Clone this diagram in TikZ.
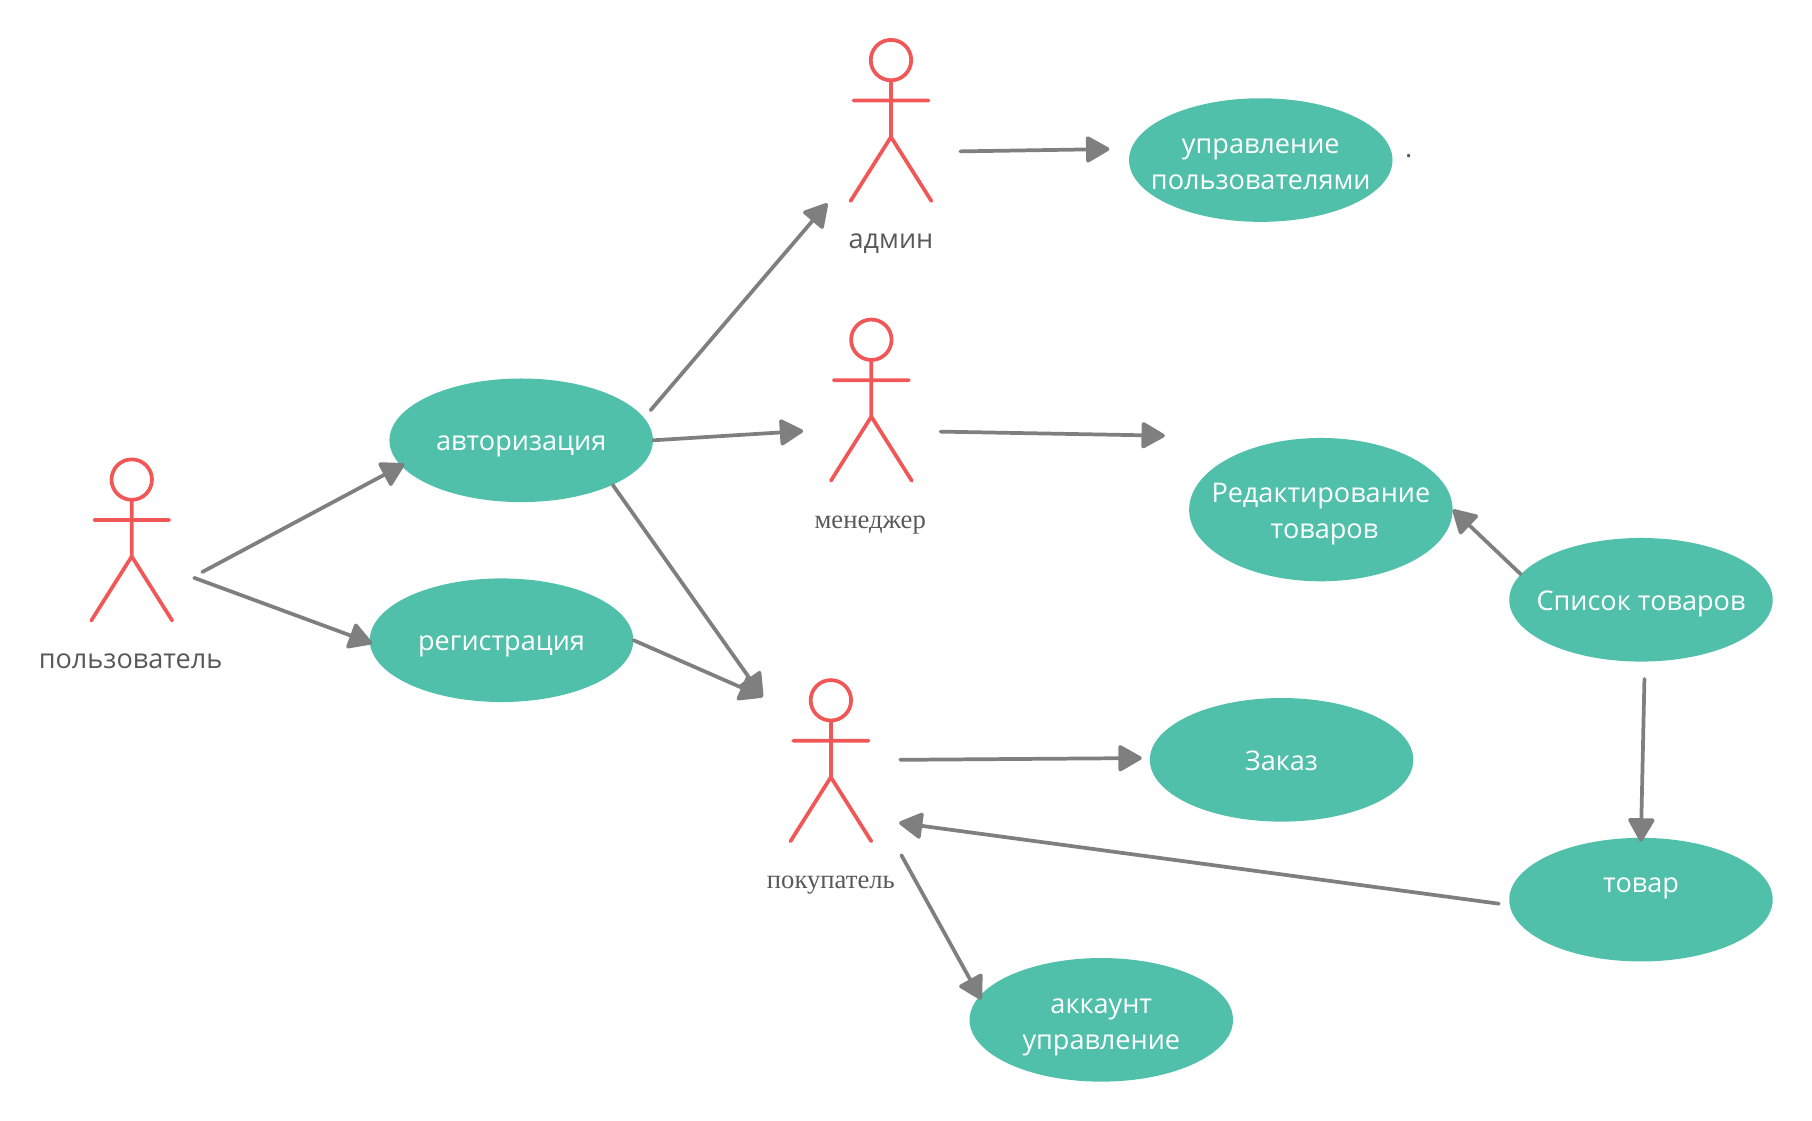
\documentclass[tikz,border=0pt]{standalone}
\usepackage{fontspec}
\setmainfont{Open Sans}
\newfontfamily\serifcap{Liberation Serif}
\usetikzlibrary{arrows.meta, shapes.geometric}
\definecolor{casegreen}{HTML}{51C0AA}
\definecolor{actorred}{HTML}{F25757}
\definecolor{arrowgray}{HTML}{7F7F7F}
\definecolor{capgray}{HTML}{595959}
\tikzset{
    usecase/.style={ellipse, fill=casegreen, minimum width=197.6pt, minimum height=92.7pt, inner sep=-30pt,
        text=white, align=center, font=\fontsize{20.3}{27}\selectfont,
        execute at begin node={\rule{0pt}{21pt}}, execute at end node={\rule[-5.5pt]{0pt}{0pt}}},
    twolines/.style={execute at begin node={\rule{0pt}{49.5pt}}},
    actorcap/.style={text=capgray, inner sep=0pt, font=\fontsize{20.3}{24}\selectfont},
    actorserif/.style={text=capgray, inner sep=0pt, font=\fontsize{20}{24}\selectfont\serifcap},
    link/.style={draw=arrowgray, line width=2.8pt, line cap=round, -{Triangle[length=19pt,width=21pt,round]}},
    actorfig/.pic={
        \draw[actorred, line width=2.8pt, line cap=round, line join=round]
            (0,0) circle [radius=17.5]
            (0,17.5) -- (0,66.5)
            (-32.5,35) -- (32.5,35)
            (-35,122) -- (0,66.5) -- (35,122);
    }
}
\begin{document}
\begin{tikzpicture}[x=0.8667pt, y=-0.8667pt]
    \useasboundingbox (0,0) rectangle (1568,970);

    \pic at (114,415) {actorfig};
    \pic at (771,52) {actorfig};
    \pic at (754,294) {actorfig};
    \pic at (719,606) {actorfig};

    \node[actorcap] (userlabel) at (113,572) {пользователь};
    \node[actorcap] (adminlabel) at (771,211) {админ};
    \node[actorserif] (managerlabel) at (753,454) {менеджер};
    \node[actorserif] (buyerlabel) at (719,766) {покупатель};

    \node[usecase] (auth) at (451,381) {авторизация};
    \node[usecase] (reg) at (434,554) {регистрация};
    \node[usecase, twolines] (usermgmt) at (1091,138.5) {управление~\\пользователями};
    \node[usecase, twolines, minimum height=107.5pt] (edit) at (1143,441) {Редактирование\\~товаров};
    \node[usecase] (list) at (1420,519) {Список товаров};
    \node[usecase] (order) at (1109,657.5) {Заказ};
    \node[usecase, twolines] (item) at (1420,778.5) {товар\\~};
    \node[usecase, twolines] (account) at (953,882.5) {аккаунт\\управление};
    \node[actorcap] (dot) at (1219,135) {.};

    \coordinate (userout1) at (175,495);
    \coordinate (userout2) at (168,500);
    \coordinate (authout) at (563,355);
    \coordinate (adminin) at (716,176);
    \coordinate (adminout) at (831,131);
    \coordinate (mgmtin) at (960,129);
    \coordinate (managerin) at (695,373);
    \coordinate (managerout) at (814,373.5);
    \coordinate (editin) at (1008,377);
    \coordinate (buyerin) at (660,603);
    \coordinate (buyerout1) at (779,657.5);
    \coordinate (orderin) at (988,656);
    \coordinate (buyerback) at (778,712);
    \coordinate (buyerout2) at (780,740);
    \coordinate (listout) at (1423,587.5);
    \coordinate (itemout) at (1297,782);

    \draw[link, shorten >=-3pt] (userout1) -- (auth.192);
    \draw[link, shorten >=-2pt] (userout2) -- (reg.181);
    \draw[link] (authout) -- (adminin);
    \draw[link] (auth.east) -- (managerin);
    \draw[link] (auth.334) -- (buyerin);
    \draw[link] (reg.east) -- (buyerin);
    \draw[link] (adminout) -- (mgmtin);
    \draw[link] (managerout) -- (editin);
    \draw[link] (list.168) -- (edit.east);
    \draw[link, shorten >=-3pt] (listout) -- (item.north);
    \draw[link] (itemout) -- (buyerback);
    \draw[link] (buyerout1) -- (orderin);
    \draw[link, shorten >=-3pt] (buyerout2) -- (account.169);
\end{tikzpicture}
\end{document}
